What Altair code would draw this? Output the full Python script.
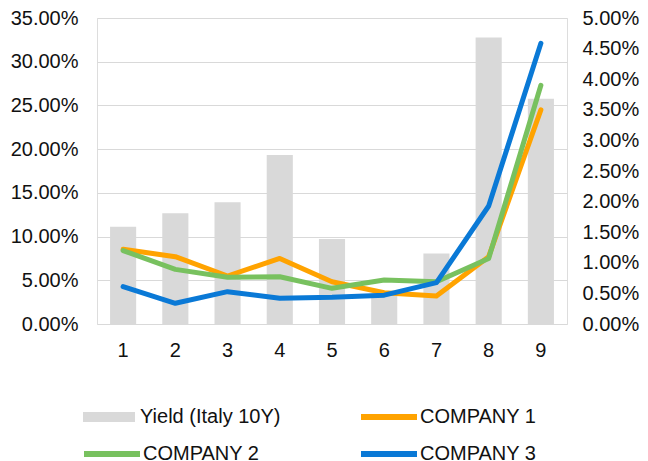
import altair as alt
import pandas as pd

periods = [1, 2, 3, 4, 5, 6, 7, 8, 9]
yield_italy_10y = [0.0159, 0.0181, 0.0199, 0.0276, 0.0139, 0.0050, 0.0115, 0.0468, 0.0368]
company_1 = [0.0854, 0.0770, 0.0549, 0.0750, 0.0484, 0.0358, 0.0320, 0.0770, 0.2450]
company_2 = [0.0840, 0.0625, 0.0534, 0.0540, 0.0408, 0.0503, 0.0484, 0.0750, 0.2730]
company_3 = [0.0427, 0.0237, 0.0370, 0.0294, 0.0305, 0.0330, 0.0473, 0.1350, 0.3210]

left_ticks = [0, 0.05, 0.10, 0.15, 0.20, 0.25, 0.30, 0.35]
right_ticks = [0, 0.005, 0.01, 0.015, 0.02, 0.025, 0.03, 0.035, 0.04, 0.045, 0.05]

FONT = "Liberation Sans"
TXT = "#111111"

x_enc = alt.X("period:O", title=None,
              scale=alt.Scale(paddingInner=0.5, paddingOuter=0.25),
              axis=alt.Axis(labelAngle=0, labelPadding=16, ticks=False, domain=False,
                            labelFontSize=20, labelFont=FONT, labelColor=TXT))

bar_df = pd.DataFrame({"period": periods, "v": yield_italy_10y,
                       "series": ["Yield (Italy 10Y)"] * len(periods)})
bars = alt.Chart(bar_df).mark_bar().encode(
    x=x_enc,
    y=alt.Y("v:Q", title=None, scale=alt.Scale(domain=[0, 0.05], nice=False),
            axis=alt.Axis(orient="right", values=right_ticks, format=".2%", grid=False,
                          ticks=False, domain=False, labelPadding=15,
                          labelFontSize=20, labelFont=FONT, labelColor=TXT)),
    color=alt.Color("series:N",
                    scale=alt.Scale(range=["#D9D9D9"]),
                    legend=alt.Legend(title=None, orient="none", legendX=-14, legendY=373,
                                      symbolType="M-1,-0.19H1V0.19H-1Z", symbolSize=2704,
                                      symbolStrokeWidth=0, labelFontSize=20, labelFont=FONT,
                                      labelColor=TXT, labelOffset=5, padding=0)),
)


def line_layer(values, name, color, lx, ly, show_axis):
    df = pd.DataFrame({"period": periods, "v": values, "series": [name] * len(periods)})
    if show_axis:
        axis = alt.Axis(orient="left", values=left_ticks, format=".2%", grid=True,
                        gridColor="#D9D9D9", gridWidth=1, ticks=False, domain=False,
                        labelPadding=19, labelFontSize=20, labelFont=FONT, labelColor=TXT)
    else:
        axis = None
    return alt.Chart(df).mark_line(strokeWidth=5, strokeJoin="round", strokeCap="round").encode(
        x=x_enc,
        y=alt.Y("v:Q", title=None, scale=alt.Scale(domain=[0, 0.35], nice=False), axis=axis),
        color=alt.Color("series:N", scale=alt.Scale(range=[color]),
                        legend=alt.Legend(title=None, orient="none", legendX=lx, legendY=ly,
                                          symbolType="stroke", symbolSize=3136,
                                          symbolStrokeWidth=6, labelFontSize=20,
                                          labelFont=FONT, labelColor=TXT, labelOffset=0,
                                          padding=0)),
    )


l1 = line_layer(company_1, "COMPANY 1", "#FFA300", 261, 368, True)
l2 = line_layer(company_2, "COMPANY 2", "#78C15F", -16, 405, False)
l3 = line_layer(company_3, "COMPANY 3", "#0A79D6", 261, 405, False)

chart = alt.layer(bars, l1, l2, l3).resolve_scale(
    y="independent", color="independent"
).properties(
    width=470, height=306,
    autosize=alt.AutoSizeParams(type="none"),
    padding={"left": 89, "top": 10, "right": 73, "bottom": 144},
).configure_view(stroke=None).configure(background="white")

chart.save("out.html", embed_options={"renderer": "svg", "actions": False})
